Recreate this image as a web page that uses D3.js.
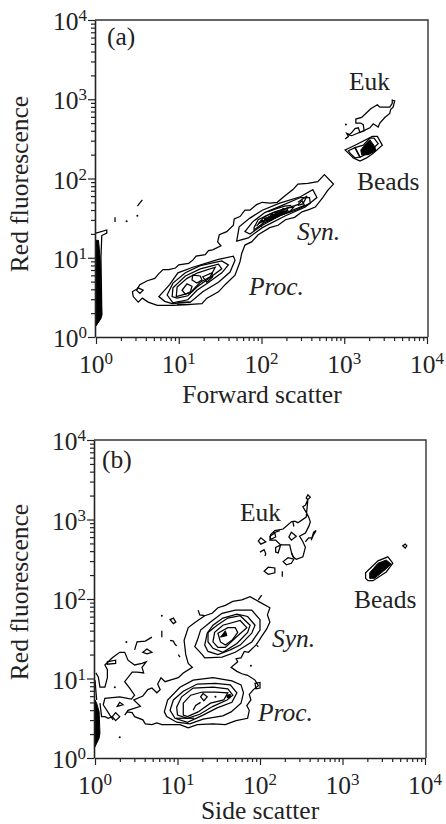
<!DOCTYPE html>
<html>
<head>
<meta charset="utf-8">
<title>Cytogram contours</title>
<script src="https://cdn.jsdelivr.net/npm/d3@7"></script>
<style>
    body { margin: 0; background: #fff; }
    svg { display: block; }
    text { font-family: "Liberation Serif", serif; fill: #222; }
</style>
</head>
<body>
<div id="chart"></div>
<script>
// all contour vertices are [log10 x, log10 y]
const decades = [0, 1, 2, 3, 4];

// panel (a), forward scatter
const aClosed = [
    // outer level, Proc. and Syn. merge into one
    [[.44,.57],[.50,.61],[.53,.66],[.62,.71],[.71,.74],[.76,.80],[.81,.85],[.88,.85],[.96,.87],[1.00,.91],[1.06,.92],[1.12,.93],[1.17,.97],[1.21,1.02],[1.32,1.04],[1.36,1.09],[1.41,1.10],[1.51,1.15],[1.47,1.20],[1.49,1.29],[1.58,1.33],[1.66,1.41],[1.67,1.49],[1.74,1.52],[1.80,1.60],[1.86,1.60],[1.94,1.67],[2.01,1.70],[2.10,1.69],[2.19,1.70],[2.28,1.78],[2.38,1.86],[2.44,1.93],[2.56,1.94],[2.68,1.96],[2.76,2.05],[2.87,1.93],[2.80,1.85],[2.74,1.76],[2.65,1.64],[2.58,1.61],[2.49,1.58],[2.40,1.51],[2.29,1.48],[2.20,1.41],[2.10,1.38],[1.96,1.29],[1.88,1.20],[1.80,1.16],[1.76,1.05],[1.74,.95],[1.68,.78],[1.56,.66],[1.48,.57],[1.34,.49],[1.28,.42],[1.10,.41],[.93,.40],[.74,.40],[.63,.44],[.56,.49],[.51,.44],[.45,.51]],
    [[.51,.62],[.57,.59],[.53,.55],[.49,.59]],
    // Proc.
    [[.76,.51],[.89,.66],[.99,.81],[1.17,.88],[1.48,.98],[1.66,1.02],[1.68,.97],[1.62,.82],[1.48,.69],[1.29,.57],[1.14,.44],[.92,.42],[.83,.45]],
    [[.86,.53],[.93,.68],[1.08,.81],[1.26,.90],[1.52,.96],[1.60,.91],[1.52,.81],[1.35,.68],[1.22,.59],[1.11,.47],[.93,.43]],
    [[.92,.51],[.93,.62],[1.08,.77],[1.26,.86],[1.48,.92],[1.52,.86],[1.35,.73],[1.22,.63],[1.11,.52],[.98,.49]],
    [[.97,.51],[.98,.63],[1.10,.74],[1.23,.81],[1.44,.88],[1.38,.76],[1.26,.69],[1.14,.56]],
    [[1.04,.59],[1.10,.67],[1.16,.64],[1.14,.57],[1.08,.54]],
    [[1.17,.78],[1.26,.77],[1.28,.72],[1.22,.68],[1.16,.72]],
    [[1.29,.76],[1.40,.81],[1.41,.76],[1.34,.69]],
    // Syn.
    [[1.70,1.21],[1.73,1.39],[1.86,1.50],[2.01,1.60],[2.22,1.69],[2.47,1.77],[2.62,1.86],[2.67,1.76],[2.53,1.64],[2.29,1.53],[2.01,1.38],[1.84,1.25]],
    [[1.80,1.33],[1.89,1.45],[2.04,1.57],[2.25,1.66],[2.47,1.76],[2.58,1.76],[2.59,1.69],[2.44,1.61],[2.22,1.53],[2.01,1.41],[1.86,1.30]],
    [[1.91,1.38],[1.96,1.48],[2.10,1.55],[2.29,1.62],[2.44,1.67],[2.49,1.72],[2.52,1.66],[2.35,1.59],[2.16,1.50],[2.01,1.43],[1.91,1.35]],
    [[1.96,1.43],[2.04,1.52],[2.16,1.58],[2.32,1.63],[2.39,1.64],[2.35,1.59],[2.20,1.54],[2.08,1.49]],
    // Euk
    [[3.06,2.55],[3.09,2.58],[3.13,2.63],[3.17,2.64],[3.19,2.58],[3.24,2.60],[3.23,2.68],[3.20,2.70],[3.14,2.70],[3.14,2.75],[3.21,2.77],[3.27,2.83],[3.32,2.88],[3.40,2.93],[3.43,2.90],[3.55,2.90],[3.58,2.95],[3.58,2.99],[3.61,2.98],[3.60,2.94],[3.59,2.90],[3.56,2.87],[3.55,2.82],[3.49,2.77],[3.43,2.70],[3.41,2.65],[3.35,2.69],[3.31,2.64],[3.25,2.61],[3.09,2.54]],
    // beads
    [[3.01,2.36],[3.13,2.42],[3.34,2.53],[3.40,2.53],[3.46,2.42],[3.35,2.32],[3.27,2.26],[3.19,2.22],[3.11,2.26],[3.05,2.32]],
    [[3.05,2.35],[3.13,2.39],[3.19,2.27],[3.13,2.26],[3.07,2.32]],
    [[3.13,2.39],[3.23,2.42],[3.31,2.51],[3.36,2.51],[3.41,2.44],[3.29,2.32],[3.19,2.27]]
];
const aOpen = [
    [[0,1.31],[.13,1.35],[.13,1.31],[.07,1.28],[.06,1.01],[.07,.28],[.06,.24],[0,.15]],
    [[.50,1.65],[.56,1.73]],
    [[.23,1.45],[.23,1.51]],
    [[.98,.44],[1.14,.44]],
    [[.98,.41],[1.14,.41]],
    // hatching in the Syn. core
    [[1.94,1.40],[2.00,1.47],[2.06,1.46],[2.12,1.55],[2.20,1.52],[2.26,1.62],[2.34,1.58]],
    [[1.99,1.39],[2.05,1.50],[2.12,1.47],[2.18,1.57],[2.27,1.55],[2.32,1.62]],
    [[2.08,1.58],[2.18,1.62],[2.28,1.65],[2.36,1.66]],
    [[2.44,1.70],[2.55,1.78],[2.50,1.68],[2.44,1.66]],
    [[3.01,2.50],[3.05,2.53],[3.03,2.57],[3.07,2.55]]
];
const aSolid = [
    [[0,1.22],[.03,1.22],[.05,1.0],[.06,.6],[.07,.28],[.05,.22],[0,.14]],
    [[2.03,1.49],[2.13,1.54],[2.26,1.60],[2.31,1.58],[2.18,1.52],[2.08,1.46]],
    [[3.23,2.40],[3.31,2.49],[3.37,2.40],[3.38,2.35],[3.29,2.30],[3.21,2.30],[3.20,2.36]]
];
const aDots = [[.37,1.46],[.50,1.53],[3.02,2.68]];

// panel (b), side scatter
const bClosed = [
    // outer level round Proc. and Syn.
    [[.36,.54],[.39,.58],[.45,.57],[.48,.52],[.58,.48],[.61,.43],[.69,.42],[.75,.44],[.81,.42],[1.03,.42],[1.13,.38],[1.24,.42],[1.43,.43],[1.58,.42],[1.71,.47],[1.85,.50],[1.87,.60],[1.84,.66],[1.89,.73],[1.87,.80],[1.92,.86],[1.98,.91],[1.94,.98],[1.85,1.04],[1.78,1.06],[1.72,1.09],[1.65,1.14],[1.73,1.21],[1.71,1.25],[1.77,1.26],[1.81,1.34],[1.86,1.33],[1.95,1.42],[1.99,1.48],[2.02,1.53],[2.08,1.62],[2.12,1.71],[2.09,1.80],[2.12,1.89],[1.98,1.97],[1.88,2.03],[1.78,1.99],[1.67,1.97],[1.58,1.92],[1.49,1.89],[1.42,1.82],[1.33,1.79],[1.22,1.71],[1.13,1.64],[1.08,1.48],[1.10,1.30],[1.13,1.19],[1.18,1.14],[1.07,1.07],[1.01,1.01],[.91,.98],[.85,.96],[.80,1.01],[.76,.93],[.79,.86],[.75,.82],[.69,.88],[.64,.86],[.58,.78],[.47,.73],[.55,.65],[.40,.60]],
    // Proc.
    [[.84,.58],[.88,.73],[1.03,.89],[1.19,.98],[1.43,1.01],[1.66,.97],[1.77,.92],[1.80,.82],[1.77,.69],[1.65,.58],[1.55,.53],[1.31,.49],[1.15,.43],[.99,.45],[.87,.52]],
    [[.91,.60],[.95,.73],[1.07,.84],[1.24,.93],[1.46,.94],[1.64,.92],[1.72,.82],[1.66,.70],[1.48,.63],[1.31,.54],[1.12,.45],[.97,.50]],
    [[.99,.64],[1.05,.77],[1.19,.88],[1.43,.89],[1.61,.87],[1.67,.79],[1.60,.73],[1.43,.65],[1.27,.55],[1.12,.50],[1.00,.54]],
    [[1.07,.54],[1.07,.69],[1.16,.79],[1.30,.83],[1.46,.83],[1.61,.82],[1.56,.73],[1.40,.69],[1.25,.58],[1.12,.52]],
    [[1.31,.81],[1.36,.77],[1.32,.72],[1.28,.77]],
    // Syn.
    [[1.24,1.48],[1.28,1.61],[1.40,1.71],[1.54,1.82],[1.70,1.86],[1.90,1.86],[2.00,1.74],[2.00,1.61],[1.90,1.46],[1.70,1.33],[1.54,1.27],[1.33,1.26],[1.30,1.30],[1.21,1.40]],
    [[1.33,1.42],[1.36,1.57],[1.43,1.67],[1.55,1.76],[1.72,1.81],[1.85,1.78],[1.94,1.67],[1.90,1.57],[1.76,1.42],[1.64,1.36],[1.49,1.30],[1.37,1.34]],
    [[1.37,1.46],[1.37,1.58],[1.48,1.67],[1.61,1.76],[1.76,1.79],[1.88,1.67],[1.85,1.58],[1.72,1.44],[1.55,1.33],[1.43,1.38]],
    [[1.43,1.46],[1.45,1.58],[1.55,1.67],[1.76,1.73],[1.84,1.64],[1.70,1.51],[1.58,1.39],[1.49,1.39]],
    [[1.52,1.46],[1.49,1.57],[1.61,1.64],[1.70,1.64],[1.73,1.58],[1.66,1.48],[1.58,1.42]],
    // Euk
    [[2.58,3.25],[2.61,3.28],[2.58,3.31],[2.56,3.27],[2.58,3.25],[2.55,3.18],[2.52,3.16],[2.56,3.09],[2.59,3.03],[2.61,2.97],[2.59,2.91],[2.55,2.83],[2.48,2.79],[2.52,2.72],[2.55,2.65],[2.52,2.53],[2.44,2.50],[2.40,2.53],[2.38,2.59],[2.36,2.68],[2.25,2.68],[2.19,2.74],[2.12,2.74],[2.13,2.81],[2.18,2.86],[2.28,2.88],[2.38,2.97],[2.42,2.98],[2.46,2.96],[2.56,3.03]],
    [[2.38,2.84],[2.44,2.79],[2.38,2.74],[2.35,2.78]],
    [[2.25,2.68],[2.22,2.58],[2.19,2.59],[2.19,2.65]],
    [[2.28,2.47],[2.34,2.52],[2.41,2.50],[2.38,2.45],[2.32,2.43]],
    [[1.98,2.73],[2.01,2.77],[2.07,2.72],[2.01,2.69]],
    [[2.05,2.35],[2.10,2.40],[2.18,2.39],[2.18,2.33],[2.10,2.31]],
    [[2.12,2.79],[2.18,2.83],[2.19,2.78],[2.13,2.75]],
    // beads
    [[3.28,2.26],[3.28,2.33],[3.43,2.48],[3.55,2.53],[3.61,2.45],[3.53,2.34],[3.37,2.23],[3.31,2.23]],
    [[3.73,2.67],[3.76,2.69],[3.78,2.67],[3.76,2.64]],
    // little loops
    [[.21,.52],[.25,.57],[.30,.52],[.25,.47]],
    [[.27,.65],[.34,.67],[.30,.70]],
    [[.58,1.33],[.63,1.37],[.69,1.33],[.63,1.31]],
    [[.15,1.21],[.25,1.23],[.25,1.19],[.15,1.18]],
    [[.91,1.74],[.95,1.76],[.98,1.71],[.95,1.69]],
    [[1.94,.94],[2.00,.95],[2.00,.88],[1.95,.87]]
];
const bOpen = [
    [[.01,1.07],[.04,1.02],[.06,.89],[.12,.89],[.15,1.01],[.15,1.11],[.12,1.17],[.21,1.26],[.30,1.33],[.36,1.33],[.40,1.23],[.48,1.17],[.57,1.19],[.62,1.21],[.57,1.14],[.59,1.07],[.51,1.08],[.45,1.08],[.36,.96],[.42,.88],[.48,.79],[.44,.74],[.30,.77],[.12,.75],[.10,.67],[.18,.54],[.22,.48]],
    [[.06,.69],[.08,.52],[.12,.52],[.16,.50],[.21,.52]],
    [[.48,1.36],[.51,1.46],[.61,1.47],[.69,1.52]],
    [[.81,1.60],[.81,1.52]],
    [[.91,1.48],[.95,1.47],[.97,1.43],[.99,1.41]],
    [[1.01,1.30],[1.03,1.27]],
    [[2.55,2.72],[2.59,2.77],[2.63,2.77],[2.65,2.84],[2.68,2.86],[2.65,2.81],[2.62,2.74]],
    [[2.40,2.97],[2.41,2.91]],
    [[2.38,2.58],[2.41,2.52]],
    [[2.00,2.59],[2.05,2.62],[2.07,2.57],[2.06,2.54]],
    [[2.27,2.35],[2.27,2.28]],
    [[2.16,2.83],[2.24,2.86]],
    [[1.19,.60],[1.22,.66],[1.28,.70]],
    [[.98,.50],[1.20,.50]],
    [[0,.98],[.02,.73]],
    // spurs on the outer level
    [[1.98,1.99],[2.02,2.05]],
    [[1.25,1.86],[1.27,1.80],[1.33,1.79]],
    [[1.96,1.42],[1.98,1.40]]
];
const bSolid = [
    [[0,.73],[.02,.69],[.05,.58],[.06,.31],[.05,.25],[0,.14]],
    [[3.33,2.33],[3.43,2.45],[3.53,2.49],[3.59,2.44],[3.53,2.38],[3.39,2.26],[3.33,2.26]],
    [[1.60,.79],[1.64,.80],[1.64,.76],[1.60,.76]],
    [[1.52,1.52],[1.58,1.60],[1.60,1.54]]
];
const bDots = [[.81,1.79],[.38,1.46],[.24,.89],[.30,.26],[1.89,1.16],[1.46,.77]];

const svg = d3.select('#chart')
    .append('svg')
    .attr('width', 446)
    .attr('height', 824);

function pow10(v) { return Math.pow(10, v); }

function drawPanel(p) {
    const x = d3.scaleLog().domain([1, 10000]).range(p.xRange);
    const y = d3.scaleLog().domain([1, 10000]).range(p.yRange);
    const left = p.xRange[0] - 1;
    const bottom = p.yRange[0];
    const g = svg.append('g');

    const line = d3.line()
        .x(d => x(pow10(d[0])))
        .y(d => y(pow10(d[1])));

    // contours
    g.selectAll('.closed').data(p.closed).enter().append('path')
        .attr('d', d => line(d) + 'Z')
        .attr('fill', 'none')
        .attr('stroke', '#000')
        .attr('stroke-width', 1.25);

    g.selectAll('.open').data(p.open).enter().append('path')
        .attr('d', line)
        .attr('fill', 'none')
        .attr('stroke', '#000')
        .attr('stroke-width', 1.25);

    // places where the levels run together
    g.selectAll('.solid').data(p.solid).enter().append('path')
        .attr('d', d => line(d) + 'Z')
        .attr('fill', '#000')
        .attr('stroke', '#000')
        .attr('stroke-width', 1);

    g.selectAll('.dot').data(p.dots).enter().append('circle')
        .attr('cx', d => x(pow10(d[0])))
        .attr('cy', d => y(pow10(d[1])))
        .attr('r', 1)
        .attr('fill', '#000');

    // top and right border
    g.append('path')
        .attr('d', `M${left},${p.yRange[1]}H${p.xRange[1] + 1}V${bottom}`)
        .attr('fill', 'none')
        .attr('stroke', '#333')
        .attr('stroke-width', 1.4);

    // axes, every decade gets its 2..9 minor ticks
    const xAxis = d3.axisBottom(x).tickValues(x.ticks()).tickSizeOuter(0).tickFormat('');
    const yAxis = d3.axisLeft(y).tickValues(y.ticks()).tickSizeOuter(0).tickFormat('');

    const gx = g.append('g').attr('transform', `translate(0,${bottom})`).call(xAxis);
    const gy = g.append('g').attr('transform', `translate(${left},0)`).call(yAxis);

    [gx, gy].forEach(a => {
        a.select('.domain').attr('stroke', '#222').attr('stroke-width', 1.6);
        a.selectAll('.tick line').attr('stroke', '#222').attr('stroke-width', 1.2);
    });
    const isMajor = d => Math.abs(Math.log10(d) - Math.round(Math.log10(d))) < 1e-6;
    gx.selectAll('.tick line').attr('y2', d => isMajor(d) ? 7 : 4);
    gy.selectAll('.tick line').attr('x2', d => isMajor(d) ? -7 : -4);

    // tick labels with superscripts
    decades.forEach(e => {
        const xt = g.append('text')
            .attr('x', x(pow10(e)))
            .attr('y', bottom + 36)
            .attr('text-anchor', 'middle')
            .style('font-size', '25.5px')
            .text('10');
        xt.append('tspan').attr('dy', -9).style('font-size', '17px').text(e);

        const yt = g.append('text')
            .attr('x', left - 8)
            .attr('y', y(pow10(e)) + 10)
            .attr('text-anchor', 'end')
            .style('font-size', '25.5px')
            .text('10');
        yt.append('tspan').attr('dy', -9).style('font-size', '17px').text(e);
    });

    g.append('text')
        .attr('x', p.xLabelX)
        .attr('y', p.xLabelY)
        .attr('text-anchor', 'middle')
        .style('font-size', '25.5px')
        .text(p.xLabel);

    g.append('text')
        .attr('transform', `translate(28,${p.yLabelY}) rotate(-90)`)
        .attr('text-anchor', 'middle')
        .style('font-size', '25.5px')
        .text('Red fluorescence');

    p.labels.forEach(l => {
        g.append('text')
            .attr('x', l[1])
            .attr('y', l[2])
            .style('font-size', '25.5px')
            .style('font-style', l[3] ? 'italic' : 'normal')
            .text(l[0]);
    });
}

drawPanel({
    xRange: [96, 427], yRange: [337, 20],
    closed: aClosed, open: aOpen, solid: aSolid, dots: aDots,
    xLabel: 'Forward scatter', xLabelX: 262, xLabelY: 403, yLabelY: 184,
    labels: [['(a)', 107, 45], ['Euk', 349, 90], ['Beads', 357, 190], ['Syn.', 297, 240, true], ['Proc.', 249, 295, true]]
});

drawPanel({
    xRange: [95, 425], yRange: [758, 440],
    closed: bClosed, open: bOpen, solid: bSolid, dots: bDots,
    xLabel: 'Side scatter', xLabelX: 260, xLabelY: 819, yLabelY: 592,
    labels: [['(b)', 102, 468], ['Euk', 240, 521], ['Beads', 354, 608], ['Syn.', 272, 647, true], ['Proc.', 258, 721, true]]
});
</script>
</body>
</html>
